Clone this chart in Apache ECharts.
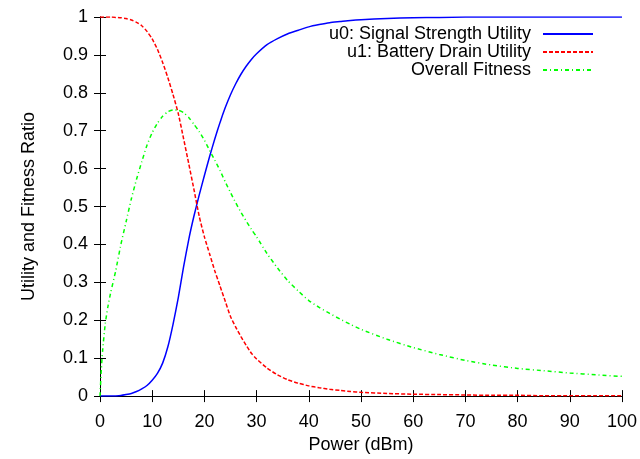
<!DOCTYPE html>
<html>
<head>
<meta charset="utf-8">
<script src="https://cdn.jsdelivr.net/npm/echarts@6/dist/echarts.min.js"></script>
<style>
html,body{margin:0;padding:0;background:#fff;}
#c{width:640px;height:459px;}
</style>
</head>
<body>
<div id="c"></div>
<script>
var powerDbm = [0,0.25,0.5,1,1.5,2,3,4,5,6,7,8,9,10,11,12,13,14,15,16,17,18,19,20,21,22,23,24,25,26,27,28,29,30,32,34,36,38,40,42,44,46,48,50,55,60,65,70,75,80,85,90,95,100];
var u0Signal = [0,0,0,0,0,0,0.0005,0.0015,0.004,0.007,0.012,0.019,0.028,0.042,0.06,0.087,0.13,0.19,0.26,0.34,0.413,0.475,0.53,0.582,0.632,0.679,0.722,0.761,0.795,0.824,0.849,0.87,0.888,0.903,0.927,0.943,0.956,0.965,0.974,0.98,0.985,0.988,0.991,0.993,0.996,0.998,0.999,1,1,1,1,1,1,1];
var u1Battery = [1,1,1,1,1,1,0.999,0.998,0.996,0.992,0.986,0.977,0.962,0.942,0.915,0.88,0.84,0.795,0.745,0.68,0.613,0.545,0.475,0.42,0.375,0.33,0.29,0.25,0.21,0.182,0.157,0.134,0.113,0.098,0.074,0.056,0.043,0.034,0.027,0.022,0.018,0.015,0.012,0.010,0.007,0.005,0.004,0.003,0.002,0.002,0.001,0.001,0.001,0.001];
var fitness = [0,0.07,0.12,0.19,0.235,0.27,0.33,0.4,0.46,0.52,0.572,0.618,0.662,0.695,0.72,0.738,0.75,0.755,0.754,0.748,0.735,0.717,0.698,0.675,0.648,0.622,0.595,0.565,0.537,0.51,0.485,0.462,0.44,0.42,0.376,0.338,0.304,0.277,0.252,0.234,0.218,0.203,0.189,0.176,0.15,0.128,0.11,0.094,0.082,0.073,0.067,0.061,0.056,0.052];
var seriesNames = ['u0: Signal Strength Utility','u1: Battery Drain Utility','Overall Fitness'];
var xTicks = {min:0,max:100,interval:10};
var yTicks = {min:0,max:1,interval:0.1};

function pairs(ys){ return powerDbm.map(function(x,i){return [x, ys[i]];}); }

var font = 'Liberation Sans, Arial, sans-serif';
var fs = 18;
var axisCommon = {
  axisLine:{show:true,lineStyle:{color:'#000',width:1}},
  axisTick:{show:true,inside:true,length:6,lineStyle:{color:'#000',width:1}},
  splitLine:{show:false}
};
var chart = echarts.init(document.getElementById('c'));
chart.setOption({
  animation:false,
  backgroundColor:'#fff',
  textStyle:{fontFamily:font},
  grid:{left:100,right:18,top:17,bottom:59,containLabel:false},
  legend:{
    orient:'vertical', right:41, top:20, align:'right',
    itemWidth:50, itemHeight:10, itemGap:0,
    itemStyle:{opacity:0},
    textStyle:{fontFamily:font,fontSize:fs,lineHeight:18,color:'#000',padding:[0,7,0,0]},
    data:seriesNames
  },
  xAxis:[
    Object.assign({type:'value',min:xTicks.min,max:xTicks.max,interval:xTicks.interval,
      name:'Power (dBm)',nameLocation:'middle',nameGap:39,
      nameTextStyle:{fontFamily:font,fontSize:fs,color:'#000'},
      axisLabel:{fontFamily:font,fontSize:fs,color:'#000',margin:17}},axisCommon),
    Object.assign({type:'value',position:'top',min:xTicks.min,max:xTicks.max,interval:xTicks.interval,
      axisLabel:{show:false}},axisCommon)
  ],
  yAxis:[
    Object.assign({type:'value',min:yTicks.min,max:yTicks.max,interval:yTicks.interval,
      name:'Utility and Fitness Ratio',nameLocation:'middle',nameGap:62,nameRotate:90,
      nameTextStyle:{fontFamily:font,fontSize:fs,color:'#000'},
      axisLabel:{fontFamily:font,fontSize:fs,color:'#000',margin:12}},axisCommon),
    Object.assign({type:'value',position:'right',min:yTicks.min,max:yTicks.max,interval:yTicks.interval,
      axisLabel:{show:false}},axisCommon)
  ],
  series:[
    {name:seriesNames[0],type:'line',data:pairs(u0Signal),symbol:'none',smooth:0.2,
      lineStyle:{color:'#0000ff',width:1.5,type:'solid'},itemStyle:{color:'#0000ff'}},
    {name:seriesNames[1],type:'line',data:pairs(u1Battery),symbol:'none',smooth:0.2,
      lineStyle:{color:'#ff0000',width:1.5,type:[4,2]},itemStyle:{color:'#ff0000'}},
    {name:seriesNames[2],type:'line',data:pairs(fitness),symbol:'none',smooth:0.2,
      lineStyle:{color:'#00ff00',width:1.5,type:[4,3,1,3]},itemStyle:{color:'#00ff00'}}
  ]
});
</script>
</body>
</html>
